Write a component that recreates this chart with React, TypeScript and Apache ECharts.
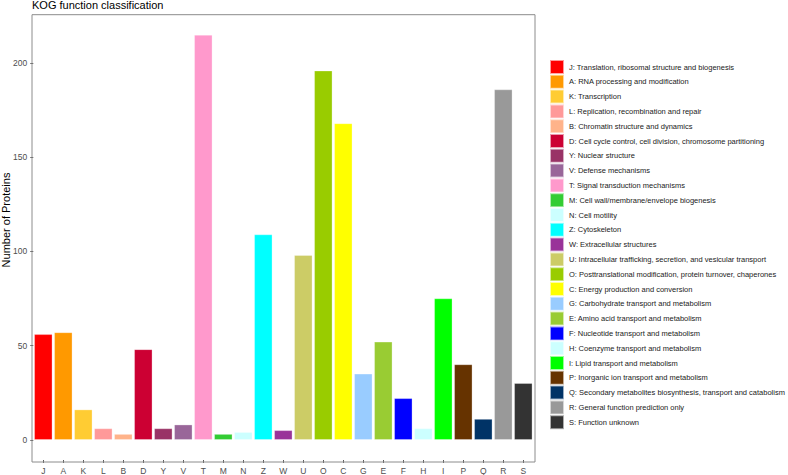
import React, { useEffect, useRef } from "react";
import * as echarts from "echarts";

const categories = ["J","A","K","L","B","D","Y","V","T","M","N","Z","W","U","O","C","G","E","F","H","I","P","Q","R","S"];
const values = [56,57,16,6,3,48,6,8,215,3,4,109,5,98,196,168,35,52,22,6,75,40,11,186,30];
const descriptions = [
  "J: Translation, ribosomal structure and biogenesis",
  "A: RNA processing and modification",
  "K: Transcription",
  "L: Replication, recombination and repair",
  "B: Chromatin structure and dynamics",
  "D: Cell cycle control, cell division, chromosome partitioning",
  "Y: Nuclear structure",
  "V: Defense mechanisms",
  "T: Signal transduction mechanisms",
  "M: Cell wall/membrane/envelope biogenesis",
  "N: Cell motility",
  "Z: Cytoskeleton",
  "W: Extracellular structures",
  "U: Intracellular trafficking, secretion, and vesicular transport",
  "O: Posttranslational modification, protein turnover, chaperones",
  "C: Energy production and conversion",
  "G: Carbohydrate transport and metabolism",
  "E: Amino acid transport and metabolism",
  "F: Nucleotide transport and metabolism",
  "H: Coenzyme transport and metabolism",
  "I: Lipid transport and metabolism",
  "P: Inorganic ion transport and metabolism",
  "Q: Secondary metabolites biosynthesis, transport and catabolism",
  "R: General function prediction only",
  "S: Function unknown",
];
const colors = ["#FF0000","#FF9900","#FFCC33","#FF9999","#FFB38A","#CC0033","#993366","#996699","#FF99CC","#33CC33","#CCFFFF","#00FFFF","#993399","#CCCC66","#99CC00","#FFFF00","#99CCFF","#99CC33","#0000FF","#CCFFFF","#00FF00","#663300","#003366","#999999","#333333"];
const yTicks = [0, 50, 100, 150, 200];
const chartTitle = "KOG function classification";
const yTitle = "Number of Proteins";

const FONT = "'Liberation Sans', Arial, sans-serif";

export default function App() {
  const ref = useRef<HTMLDivElement>(null);
  useEffect(() => {
    if (!ref.current) return;
    const chart = echarts.init(ref.current, null, { renderer: "svg" });
    const maxV = Math.max(...values);
    const pad = maxV * 0.05;
    const series = categories.map((c, i) => ({
      type: "bar",
      name: descriptions[i],
      stack: "all",
      barWidth: "90%",
      itemStyle: { color: colors[i], borderColor: "rgba(255,255,255,0.6)", borderWidth: 0.5 },
      data: values.map((v, j) => (j === i ? v : null)),
    }));
    chart.setOption({
      animation: false,
      textStyle: { fontFamily: FONT },
      grid: { left: 33.3, width: 500, top: 14.7, bottom: 13 },
      xAxis: {
        type: "category",
        data: categories,
        axisLine: { show: false, onZero: false },
        axisTick: { show: true, alignWithLabel: true, length: 3, lineStyle: { color: "#333", width: 0.8 } },
        axisLabel: { color: "#4D4D4D", fontSize: 8.5, margin: 6, fontFamily: FONT },
      },
      yAxis: {
        type: "value",
        min: -pad,
        max: maxV + pad,
        splitLine: { show: false },
        axisLine: { show: false },
        axisTick: { show: true, length: 3, customValues: yTicks, lineStyle: { color: "#333", width: 0.8 } },
        axisLabel: { color: "#4D4D4D", fontSize: 8.5, margin: 6, customValues: yTicks, fontFamily: FONT },
      },
      legend: {
        orient: "vertical",
        left: 549,
        top: 59,
        padding: 0,
        itemWidth: 14,
        itemHeight: 14,
        itemGap: -1.2,
        icon: "rect",
        selectedMode: false,
        textStyle: { fontSize: 7.5, color: "#1A1A1A", fontFamily: FONT },
        data: descriptions,
      },
      graphic: [
        {
          type: "rect",
          shape: { x: 32, y: 14.7, width: 503, height: 447.3 },
          style: { fill: "none", stroke: "#8C8C8C", lineWidth: 1 },
          silent: true,
          z: 10,
        },
        {
          type: "text",
          x: 32,
          y: 5,
          style: { text: chartTitle, fontSize: 11, fill: "#000", fontFamily: FONT, verticalAlign: "middle" },
        },
        {
          type: "text",
          x: 5.5,
          y: 220,
          rotation: Math.PI / 2,
          style: { text: yTitle, fontSize: 11, fill: "#000", fontFamily: FONT, align: "center", verticalAlign: "middle" },
        },
      ],
      series,
    });
    return () => chart.dispose();
  }, []);
  return <div ref={ref} style={{ position: "fixed", left: 0, top: 0, width: 788, height: 475, background: "#fff" }} />;
}
